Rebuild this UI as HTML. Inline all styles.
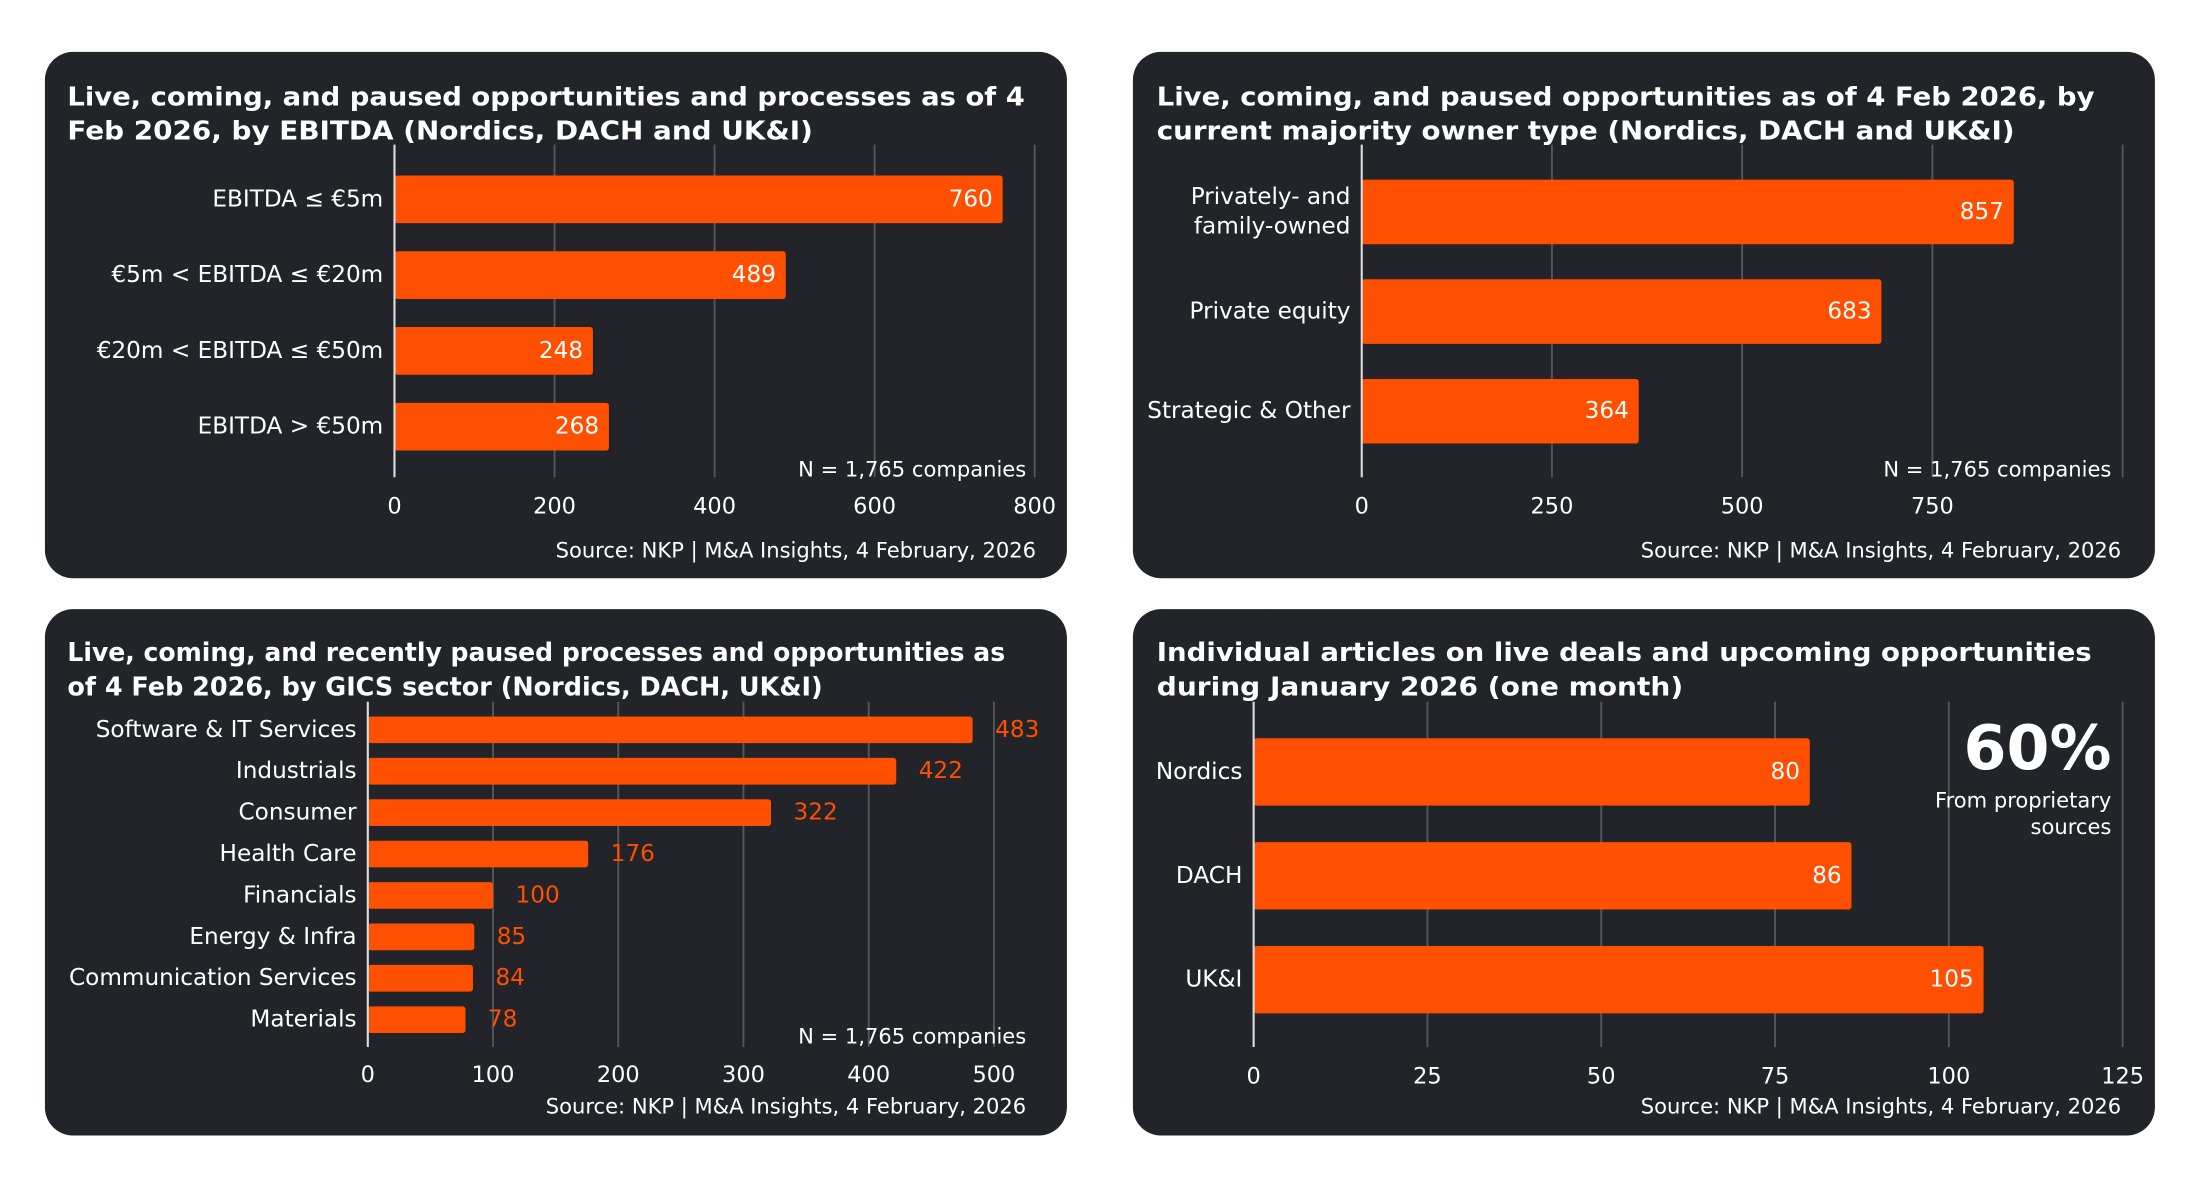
<!DOCTYPE html>
<html><head><meta charset="utf-8"><style>
html,body{margin:0;padding:0;background:#fff}
svg{display:block}
text{font-family:"DejaVu Sans","Liberation Sans",sans-serif}
</style></head><body>
<svg id="s" width="2190" height="1193" viewBox="0 0 1560 850" preserveAspectRatio="none" xmlns="http://www.w3.org/2000/svg"></svg>
<script>
// Chart 1: EBITDA
const c1Categories = ["EBITDA ≤ €5m","€5m < EBITDA ≤ €20m","€20m < EBITDA ≤ €50m","EBITDA > €50m"];
const c1Values = [760,489,248,268];
const c1Ticks = [0,200,400,600,800];
// Chart 2: owner type
const c2Categories = [["Privately- and","family-owned"],["Private equity"],["Strategic & Other"]];
const c2Values = [857,683,364];
const c2Ticks = [0,250,500,750];
const c2Grid = [0,250,500,750,1000];
// Chart 3: GICS
const c3Categories = ["Software & IT Services","Industrials","Consumer","Health Care","Financials","Energy & Infra","Communication Services","Materials"];
const c3Values = [483,422,322,176,100,85,84,78];
const c3Ticks = [0,100,200,300,400,500];
// Chart 4: articles
const c4Categories = ["Nordics","DACH","UK&I"];
const c4Values = [80,86,105];
const c4Ticks = [0,25,50,75,100,125];

const NS="http://www.w3.org/2000/svg";
const svg=document.getElementById('s');
function mk(tag,attrs,parent,txt){const e=document.createElementNS(NS,tag);for(const k in attrs)e.setAttribute(k,attrs[k]);if(txt!==undefined)e.textContent=txt;(parent||svg).appendChild(e);return e;}
const ORANGE="#ff4f00", BG="#222429", GRID="#55585c";

function panel(name,x,y,w,h){
  const g=mk('g',{});
  
  
  const r=mk('rect',{x:x,y:y,width:w,height:h,rx:20,fill:BG},g);
  
  
  return g;
}
function title(g,x,lines,y0,lens){
  lines.forEach((l,i)=>{
    const t=mk('text',{x:x,y:y0+i*24.5,fill:'#fff','font-size':18.5,'font-weight':'bold',textLength:lens[i],lengthAdjust:'spacingAndGlyphs'},g,l);
    
    
  });
}
function chart(g,o){
  const sx=v=>o.x0+(v-o.min)*(o.x1-o.x0)/(o.max-o.min);
  (o.grid||o.ticks).forEach(v=>{
    if(v===0)return;
    const l=mk('line',{x1:sx(v),x2:sx(v),y1:o.gy0,y2:o.gy1,stroke:GRID,'stroke-width':1.3},g);
    
    
  });
  o.ticks.forEach(v=>{
    const t=mk('text',{x:sx(v),y:o.ty,fill:'#fff','font-size':16,'text-anchor':'middle','dominant-baseline':'central'},g,String(v));
    
    
  });
  o.cats.forEach((c,i)=>{
    const cy=o.cy0+i*o.step;
    const b=mk('rect',{x:sx(0),y:cy-o.bh/2,width:sx(o.vals[i])-sx(0),height:o.bh,rx:2,fill:ORANGE},g);
    
    
    const lines=Array.isArray(c)?c:[c];
    lines.forEach((l,j)=>{
      const t=mk('text',{x:o.x0-8,y:cy+(j-(lines.length-1)/2)*21,fill:'#fff','font-size':o.fs||16.5,'text-anchor':'end','dominant-baseline':'central'},g,l);
      
      
    });
    let vt;
    if(o.inside){
      vt=mk('text',{x:sx(o.vals[i])-7,y:cy,fill:'#fff','font-size':16.5,'text-anchor':'end','dominant-baseline':'central'},g,String(o.vals[i]));
    }else{
      vt=mk('text',{x:sx(o.vals[i])+16,y:cy,fill:ORANGE,'font-size':16.5,'dominant-baseline':'central'},g,String(o.vals[i]));
    }
    
    
  });
  const ax=mk('line',{x1:o.x0,x2:o.x0,y1:o.gy0,y2:o.gy1,stroke:'#ddd','stroke-width':1.5},g);
  
  
}
function note(g,x,y,txt,name){
  const t=mk('text',{x:x,y:y,fill:'#fff','font-size':15,'text-anchor':'end','dominant-baseline':'central'},g,txt);
  
  
}

// Panel 1
let g=panel('ebitda-chart',32,37,728,375);
title(g,48,["Live, coming, and paused opportunities and processes as of 4","Feb 2026, by EBITDA (Nordics, DACH and UK&I)"],75,[682,531]);
chart(g,{x0:281,x1:737,min:0,max:800,ticks:c1Ticks,gy0:103,gy1:340,ty:361,cats:c1Categories,vals:c1Values,cy0:142,step:54,bh:34,inside:true});
note(g,731,334,"N = 1,765 companies","sample-size-note");
note(g,738,392,"Source: NKP | M&A Insights, 4 February, 2026","source-note");

// Panel 2
g=panel('owner-type-chart',807,37,728,375);
title(g,824,["Live, coming, and paused opportunities as of 4 Feb 2026, by","current majority owner type (Nordics, DACH and UK&I)"],75,[668,611]);
chart(g,{x0:970,x1:1512,min:0,max:1000,ticks:c2Ticks,grid:c2Grid,gy0:103,gy1:340,ty:361,cats:c2Categories,vals:c2Values,cy0:151,step:71,bh:46,inside:true});
note(g,1504,334,"N = 1,765 companies","sample-size-note");
note(g,1511,392,"Source: NKP | M&A Insights, 4 February, 2026","source-note");

// Panel 3
g=panel('gics-sector-chart',32,434,728,375);
title(g,48,["Live, coming, and recently paused processes and opportunities as","of 4 Feb 2026, by GICS sector (Nordics, DACH, UK&I)"],471,[668,538]);
chart(g,{x0:262,x1:708,min:0,max:500,ticks:c3Ticks,gy0:500,gy1:746,ty:766,cats:c3Categories,vals:c3Values,cy0:520,step:29.5,bh:19,inside:false});
note(g,731,738,"N = 1,765 companies","sample-size-note");
note(g,731,788,"Source: NKP | M&A Insights, 4 February, 2026","source-note");

// Panel 4
g=panel('articles-chart',807,434,728,375);
title(g,824,["Individual articles on live deals and upcoming opportunities","during January 2026 (one month)"],471,[666,375]);
chart(g,{x0:893,x1:1512,min:0,max:125,ticks:c4Ticks,gy0:500,gy1:746,ty:767,cats:c4Categories,vals:c4Values,cy0:550,step:74,bh:48,inside:true});
let t=mk('text',{x:1504,y:533,fill:'#fff','font-size':44,'font-weight':'bold','text-anchor':'end','dominant-baseline':'central'},g,"60%");


note(g,1504,570,"From proprietary","kpi-caption");
note(g,1504,589,"sources","kpi-caption");
note(g,1511,788,"Source: NKP | M&A Insights, 4 February, 2026","source-note");
</script>
</body></html>
